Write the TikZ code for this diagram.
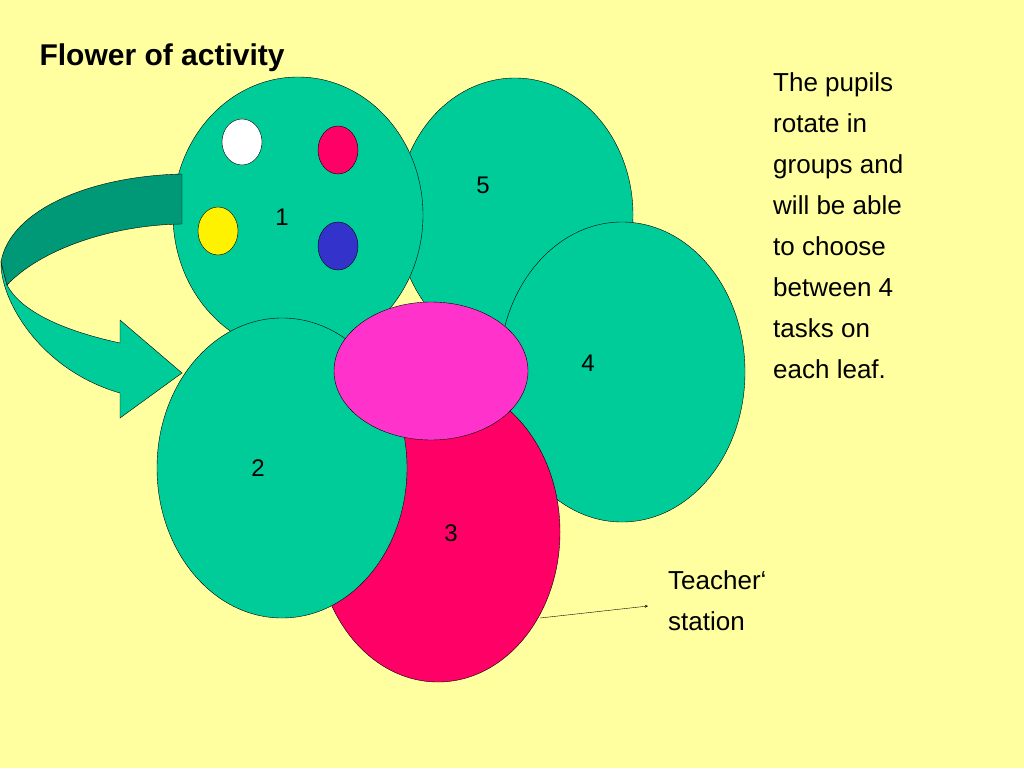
\documentclass[tikz,border=0pt]{standalone}
\usepackage{fontspec}
\setmainfont{Liberation Sans}
\begin{document}
\begin{tikzpicture}[x=1pt,y=-1pt,
  pet/.style={draw=black,fill=petg},
  dot/.style={draw=black},
  num/.style={font=\fontsize{24}{28}\selectfont},
  body/.style={font=\fontsize{26}{41}\selectfont,align=left}]
\definecolor{bg}{RGB}{255,255,160}
\definecolor{petg}{RGB}{0,204,153}
\definecolor{darkg}{RGB}{0,153,119}
\definecolor{pinkc}{RGB}{255,51,204}
\definecolor{redc}{RGB}{255,0,102}
\definecolor{bluec}{RGB}{51,51,204}
\fill[bg] (0,0) rectangle (1024,768);
\useasboundingbox (0,0) rectangle (1024,768);
\draw[pet] (515,215) ellipse [x radius=118,y radius=137];
\draw[pet] (298,215) ellipse [x radius=125,y radius=138];
\draw[dot,fill=white] (242,142) ellipse [x radius=20,y radius=23];
\draw[dot,fill=redc] (338,150) ellipse [x radius=20,y radius=24];
\draw[dot,fill=yellow] (218,231) ellipse [x radius=20,y radius=24];
\draw[dot,fill=bluec] (338,246) ellipse [x radius=20,y radius=24];
\draw[pet] (1,262) .. controls (0,300) and (40,370) .. (120,393) -- (120,418) -- (182,373) -- (120,320) -- (120,343) .. controls (60,330) and (20,310) .. (7,285) -- cycle;
\draw[draw=black,fill=darkg] (182,174) .. controls (90,176) and (10,210) .. (1,262) -- (7,285) .. controls (40,250) and (110,225) .. (182,224) -- cycle;
\draw[pet] (622,372) ellipse [x radius=123,y radius=150];
\draw[draw=black,fill=redc] (438,532) ellipse [x radius=122,y radius=150];
\draw[pet] (282,468) ellipse [x radius=125,y radius=150];
\draw[draw=black,fill=pinkc] (431,371) ellipse [x radius=97,y radius=69];
\node[num] (n1) at (282,217) {1};
\node[num] (n5) at (483,185) {5};
\node[num] (n4) at (588,363) {4};
\node[num] (n2) at (258,468) {2};
\node[num] (n3) at (451,533) {3};
\node[font=\bfseries\fontsize{30}{36}\selectfont,anchor=west] (title) at (36,58) {Flower of activity};
\node[body,anchor=north west,inner sep=0pt] (txt) at (773,72) {The pupils\\rotate in\\groups and\\will be able\\to choose\\between 4\\tasks on\\each leaf.};
\node[body,anchor=north west,inner sep=0pt] (ts) at (668,570) {Teacher`\\station};
\coordinate (a0) at (540,618);
\draw[-stealth] (a0) -- (648,606);
\end{tikzpicture}
\end{document}
